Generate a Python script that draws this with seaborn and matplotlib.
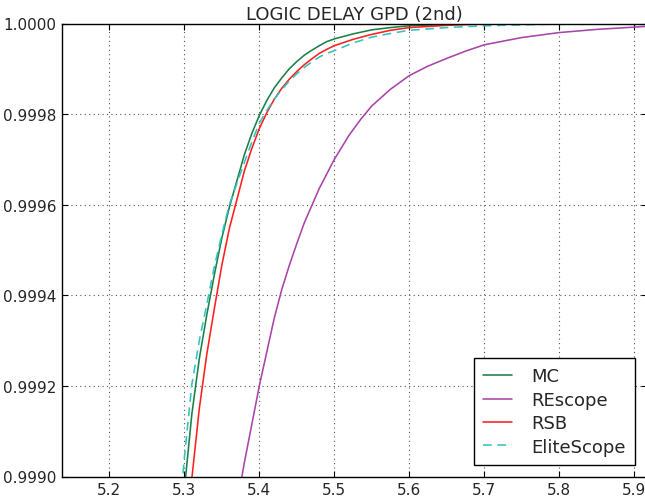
import numpy as np
import pandas as pd
import seaborn as sns
import matplotlib.pyplot as plt

# values (CDF of logic delay)
mc_x = [5.29, 5.30, 5.31, 5.32, 5.33, 5.34, 5.35, 5.36, 5.38, 5.39, 5.40, 5.41,
        5.42, 5.43, 5.44, 5.45, 5.46, 5.47, 5.48, 5.49, 5.50, 5.525, 5.55,
        5.575, 5.60, 5.65, 5.70, 5.80, 5.92]
mc_y = [0.99878, 0.99897, 0.999137, 0.99926, 0.999357, 0.999445, 0.999526,
        0.999594, 0.99971, 0.999757, 0.999797, 0.99983, 0.999858, 0.99988,
        0.9999, 0.999916, 0.99993, 0.999941, 0.999951, 0.99996, 0.999966,
        0.999977, 0.999986, 0.999991, 0.999995, 0.999998, 0.999999, 1.0, 1.0]

rescope_x = [5.37, 5.38, 5.39, 5.40, 5.41, 5.42, 5.43, 5.44, 5.45, 5.46, 5.48,
             5.50, 5.52, 5.535, 5.55, 5.575, 5.60, 5.625, 5.65, 5.675, 5.70,
             5.75, 5.80, 5.85, 5.90, 5.92]
rescope_y = [0.998936, 0.99903, 0.999115, 0.9992, 0.999275, 0.99935, 0.999413,
             0.999466, 0.999514, 0.99956, 0.999636, 0.9997, 0.999754, 0.999788,
             0.999818, 0.999855, 0.999885, 0.999906, 0.999923, 0.999939,
             0.999953, 0.999969, 0.99998, 0.999987, 0.999992, 0.999994]

rsb_x = [5.30, 5.31, 5.32, 5.33, 5.34, 5.35, 5.36, 5.38, 5.39, 5.40, 5.41, 5.42,
         5.43, 5.44, 5.45, 5.46, 5.47, 5.48, 5.49, 5.50, 5.525, 5.55, 5.575,
         5.60, 5.65, 5.70, 5.80, 5.92]
rsb_y = [0.99880, 0.998995, 0.99915, 0.99927, 0.99937, 0.999466, 0.999547,
         0.999674, 0.999724, 0.999768, 0.999803, 0.999833, 0.999857, 0.999877,
         0.999894, 0.999909, 0.999922, 0.999934, 0.999943, 0.999951, 0.999965,
         0.999976, 0.999985, 0.999991, 0.999996, 0.999999, 1.0, 1.0]

elite_x = [5.29, 5.30, 5.31, 5.32, 5.33, 5.34, 5.35, 5.36, 5.38, 5.39, 5.40,
           5.41, 5.42, 5.43, 5.44, 5.45, 5.46, 5.47, 5.48, 5.49, 5.50, 5.525,
           5.55, 5.575, 5.60, 5.65, 5.70, 5.80, 5.92]
elite_y = [0.99885, 0.99904, 0.999203, 0.9993, 0.99938, 0.999463, 0.999534,
           0.9996, 0.999693, 0.999738, 0.99978, 0.999808, 0.999833, 0.999854,
           0.999873, 0.999889, 0.999903, 0.999915, 0.999926, 0.999934, 0.99994,
           0.999957, 0.99997, 0.999978, 0.999985, 0.999991, 0.999995, 0.999999,
           1.0]

series = [
    ('MC', mc_x, mc_y, '#1b8048', '-'),
    ('REscope', rescope_x, rescope_y, '#a845a8', '-'),
    ('RSB', rsb_x, rsb_y, '#ff1f1f', '-'),
    ('EliteScope', elite_x, elite_y, '#33c2c2', (0, (5.5, 3.5))),
]

sns.set_style('white')
plt.rcParams['font.family'] = ['DejaVu Sans']

fig = plt.figure(figsize=(6.45, 5.02), dpi=100)
ax = fig.add_axes([62 / 645, 24.5 / 502, 585 / 645, 453 / 502])

for name, xs, ys, color, ls in series:
    df = pd.DataFrame({'x': xs, 'y': ys})
    sns.lineplot(data=df, x='x', y='y', ax=ax, color=color, linestyle=ls,
                 linewidth=1.15, label=name, estimator=None, sort=True)

ax.set_xlim(5.1369, 5.9170)
ax.set_ylim(0.999, 1.0)
ax.set_xticks([5.2, 5.3, 5.4, 5.5, 5.6, 5.7, 5.8, 5.9])
ax.set_yticks([0.999, 0.9992, 0.9994, 0.9996, 0.9998, 1.0])
ax.set_yticklabels(['0.9990', '0.9992', '0.9994', '0.9996', '0.9998', '1.0000'])
ax.set_xticklabels(['5.2', '5.3', '5.4', '5.5', '5.6', '5.7', '5.8', '5.9'])
ax.set_xlabel('')
ax.set_ylabel('')
ax.set_title('LOGIC DELAY GPD (2nd)', fontsize=13, pad=3)

ax.grid(True, linestyle=(0, (1, 3)), color='#555555', linewidth=0.8)
ax.tick_params(direction='in', length=4, width=0.8, color='black',
               top=True, right=True, bottom=True, left=True,
               labelsize=11, pad=4)
for s in ax.spines.values():
    s.set_color('black')
    s.set_linewidth(1.0)

leg = ax.legend(loc='lower right', fontsize=13, frameon=True, fancybox=False,
                handlelength=1.6, handletextpad=1.1, labelspacing=0.3,
                borderpad=0.5, borderaxespad=0.65)
leg.get_frame().set_edgecolor('black')
leg.get_frame().set_linewidth(1.0)
leg.get_frame().set_alpha(1.0)

fig.savefig('out.png', dpi=100)
